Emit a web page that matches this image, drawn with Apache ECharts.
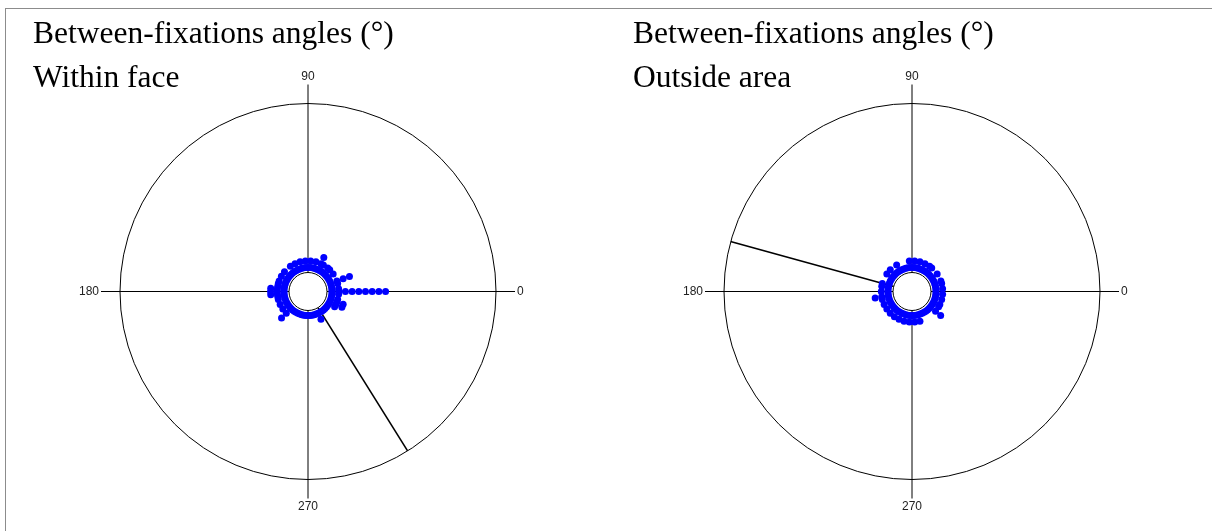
<!DOCTYPE html>
<html>
<head>
<meta charset="utf-8">
<script src="https://cdn.jsdelivr.net/npm/echarts@6/dist/echarts.min.js"></script>
<style>
html, body { margin: 0; padding: 0; background: #fff; }
#main { position: absolute; left: 0; top: 0; width: 1212px; height: 531px; }
#frame { position: absolute; left: 5px; top: 8px; width: 1230px; height: 560px;
  border-left: 1px solid #8c8c8c; border-top: 1px solid #8c8c8c; pointer-events: none; }
</style>
</head>
<body>
<div id="main"></div>
<div id="frame"></div>
<script>
// 5 degree bins, counts of fixation-to-fixation angles per bin (stacked dots)
let binAngles = [0, 5, 10, 15, 20, 25, 30, 35, 40, 45, 50, 55, 60, 65, 70, 75, 80, 85,
  90, 95, 100, 105, 110, 115, 120, 125, 130, 135, 140, 145, 150, 155, 160, 165, 170, 175,
  180, 185, 190, 195, 200, 205, 210, 215, 220, 225, 230, 235, 240, 245, 250, 255, 260, 265,
  270, 275, 280, 285, 290, 295, 300, 305, 310, 315, 320, 325, 330, 335, 340, 345, 350, 355];

let countsFace = [9, 2, 1, 2, 4, 1, 1, 2, 1, 2, 2, 1, 2, 3, 1, 2, 1, 2,
  1, 2, 1, 2, 1, 2, 1, 2, 1, 1, 2, 1, 2, 1, 2, 2, 2, 3,
  3, 3, 2, 2, 1, 2, 1, 2, 1, 3, 1, 1, 1, 1, 1, 1, 1, 1,
  1, 1, 1, 1, 1, 2, 1, 1, 1, 1, 1, 1, 2, 3, 3, 2, 1, 2];

let countsOutside = [1, 2, 1, 2, 2, 1, 1, 2, 1, 1, 2, 2, 1, 2, 1, 2, 1, 2,
  1, 2, 1, 1, 1, 1, 2, 1, 1, 2, 1, 2, 1, 1, 1, 2, 2, 1,
  2, 1, 3, 2, 1, 2, 1, 2, 1, 2, 1, 2, 1, 2, 1, 2, 1, 2,
  1, 2, 1, 2, 1, 1, 1, 1, 1, 1, 3, 1, 2, 2, 1, 2, 1, 2];

// mean direction (deg) and arrow length (in stack levels)
let meanFace = [302, 25.1];
let meanOutside = [164.6, 25.1];

let titlesLeft = ['Between-fixations angles (°)', 'Within face'];
let titlesRight = ['Between-fixations angles (°)', 'Outside area'];

function stackDots(counts) {
  let pts = [];
  for (let i = 0; i < binAngles.length; i++) {
    for (let k = 0; k < counts[i]; k++) {
      pts.push([k, binAngles[i]]);
    }
  }
  return pts;
}

let titleStyle = {
  fontFamily: 'Liberation Serif', fontSize: 31.5, fontWeight: 'normal',
  color: '#000', lineHeight: 44
};

function angleAxis(idx) {
  return {
    polarIndex: idx,
    type: 'value', min: 0, max: 360, interval: 90,
    startAngle: 0, clockwise: false,
    axisLine: { lineStyle: { color: '#000', width: 1 } },
    axisTick: { show: true, length: 19, lineStyle: { color: '#000', width: 1 } },
    splitLine: { show: true, lineStyle: { color: '#000', width: 1 } },
    axisLabel: {
      margin: 21, color: '#222', fontFamily: 'Liberation Sans', fontSize: 12,
      formatter: function (v) { return v === 360 ? '' : String(v); }
    }
  };
}

function radiusAxis(idx) {
  return {
    polarIndex: idx, type: 'value', min: -0.75, max: 24.5,
    axisLine: { show: false }, axisTick: { show: false },
    axisLabel: { show: false }, splitLine: { show: false }
  };
}

function dotSeries(idx, counts) {
  return {
    type: 'scatter', coordinateSystem: 'polar', polarIndex: idx,
    symbolSize: 7, itemStyle: { color: '#0000ff', opacity: 1 },
    data: stackDots(counts), z: 3
  };
}

function arrowSeries(idx, mean) {
  return {
    type: 'line', coordinateSystem: 'polar', polarIndex: idx,
    clip: false, symbol: 'none',
    lineStyle: { color: '#000', width: 1.6 },
    data: [[-0.75, mean[0]], [mean[1], mean[0]]], z: 2
  };
}

let myChart = echarts.init(document.getElementById('main'));
let option = {
  animation: false,
  backgroundColor: '#fff',
  title: [
    { text: titlesLeft.join('\n'), left: 33, top: 13, padding: 0, textStyle: titleStyle },
    { text: titlesRight.join('\n'), left: 633, top: 13, padding: 0, textStyle: titleStyle }
  ],
  polar: [
    { center: [308, 291.5], radius: [19, 188] },
    { center: [912, 291.5], radius: [19, 188] }
  ],
  angleAxis: [angleAxis(0), angleAxis(1)],
  radiusAxis: [radiusAxis(0), radiusAxis(1)],
  series: [
    dotSeries(0, countsFace),
    arrowSeries(0, meanFace),
    dotSeries(1, countsOutside),
    arrowSeries(1, meanOutside)
  ]
};
myChart.setOption(option);
</script>
</body>
</html>
